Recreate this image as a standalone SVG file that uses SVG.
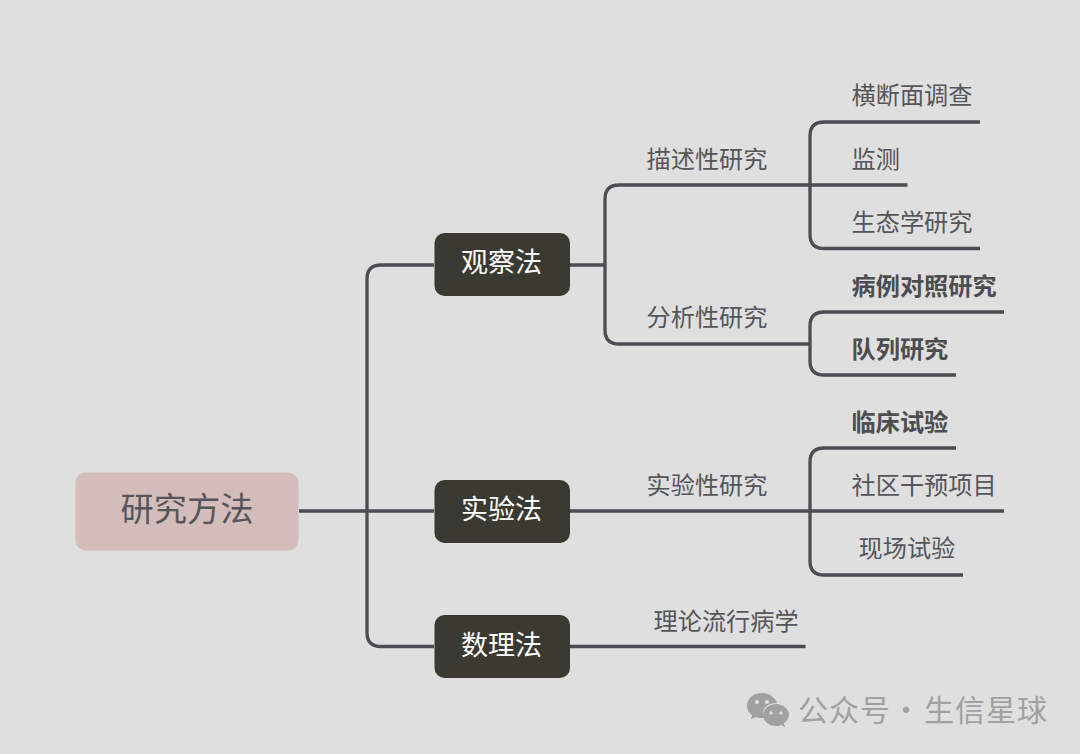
<svg xmlns="http://www.w3.org/2000/svg" width="1080" height="754" viewBox="0 0 1080 754">
<style>
text{font-family:"Noto Sans CJK SC","Noto Sans",sans-serif;fill:#55555a;font-size:24.200px;font-weight:400}
.b{font-weight:700;fill:#4d4d50}
.c{fill:none;stroke:#4c4c52;stroke-width:3.300}
.n rect{fill:#3a3a33}
.n text{fill:#fff;font-size:27px;text-anchor:middle}
.w{fill:#a1a1a1;font-size:30px;letter-spacing:1px}
</style>
<rect width="1080" height="754" fill="#dfdfdf"/>
<g id="connectors" class="c">
<path d="M299 511H434"/>
<path d="M434 265H381Q367 265 367 279V632.500Q367 646.500 381 646.500H434"/>
<path d="M570 265H605"/>
<path d="M907.500 185H619Q605 185 605 199V330Q605 344 619 344H810"/>
<path d="M980 122H824Q810 122 810 136V234.500Q810 248.500 824 248.500H980"/>
<path d="M1004 312H824Q810 312 810 326V361Q810 375 824 375H956"/>
<path d="M570 511H1004"/>
<path d="M956 448H824Q810 448 810 462V561Q810 575 824 575H963"/>
<path d="M570 646.500H805.500"/>
</g>
<g id="root"><rect x="75.500" y="472.500" width="223" height="78" rx="10" fill="#d3bcba"/><text x="187" y="521" text-anchor="middle" style="font-size:33.300px">研究方法</text></g>
<g id="n-guancha" class="n"><rect x="434.500" y="233" width="135.500" height="63" rx="10"/><text x="501.500" y="272">观察法</text></g>
<g id="n-shiyan" class="n"><rect x="434.500" y="480" width="135.500" height="63" rx="10"/><text x="501.500" y="519">实验法</text></g>
<g id="n-shuli" class="n"><rect x="434.500" y="615" width="135.500" height="63" rx="10"/><text x="501.500" y="655">数理法</text></g>
<g id="t-miaoshu"><text x="646.500" y="168">描述性研究</text></g>
<g id="t-fenxi"><text x="646.500" y="326">分析性研究</text></g>
<g id="t-shiyanxing"><text x="646.500" y="493.500">实验性研究</text></g>
<g id="t-lilun"><text x="653.500" y="629.500">理论流行病学</text></g>
<g id="t-hengduan"><text x="851.500" y="104">横断面调查</text></g>
<g id="t-jiance"><text x="851.500" y="167.500">监测</text></g>
<g id="t-shengtai"><text x="851.500" y="231">生态学研究</text></g>
<g id="t-bingli"><text class="b" x="851.500" y="295">病例对照研究</text></g>
<g id="t-duilie"><text class="b" x="851.500" y="358">队列研究</text></g>
<g id="t-linchuang"><text class="b" x="851.500" y="431">临床试验</text></g>
<g id="t-shequ"><text x="851.500" y="494">社区干预项目</text></g>
<g id="t-xianchang"><text x="858.500" y="557">现场试验</text></g>
<g id="watermark">
<path d="M762 693C753 693 747 699 747 706C747 710 749 713 752 715L751 719L756 717C758 718 760 718 762 718L764 718C763 716 763 715 763 713C763 707 769 703 777 703C775 697 769 693 762 693Z" fill="#a1a1a1"/>
<path d="M776 704C769 704 763 709 763 715C763 721 769 726 776 726C778 726 779 726 781 725L785 727L784 723C787 721 789 718 789 715C789 709 783 704 776 704Z" fill="#a1a1a1"/>
<g fill="#dfdfdf"><circle cx="757" cy="702" r="2"/><circle cx="767" cy="702" r="2"/><circle cx="771" cy="713" r="1.700"/><circle cx="781" cy="713" r="1.700"/></g>
<text class="w" x="798" y="721">公众号</text>
<text class="w" x="891" y="721" style="letter-spacing:0">·</text>
<text class="w" x="924" y="721">生信星球</text>
</g>
</svg>
